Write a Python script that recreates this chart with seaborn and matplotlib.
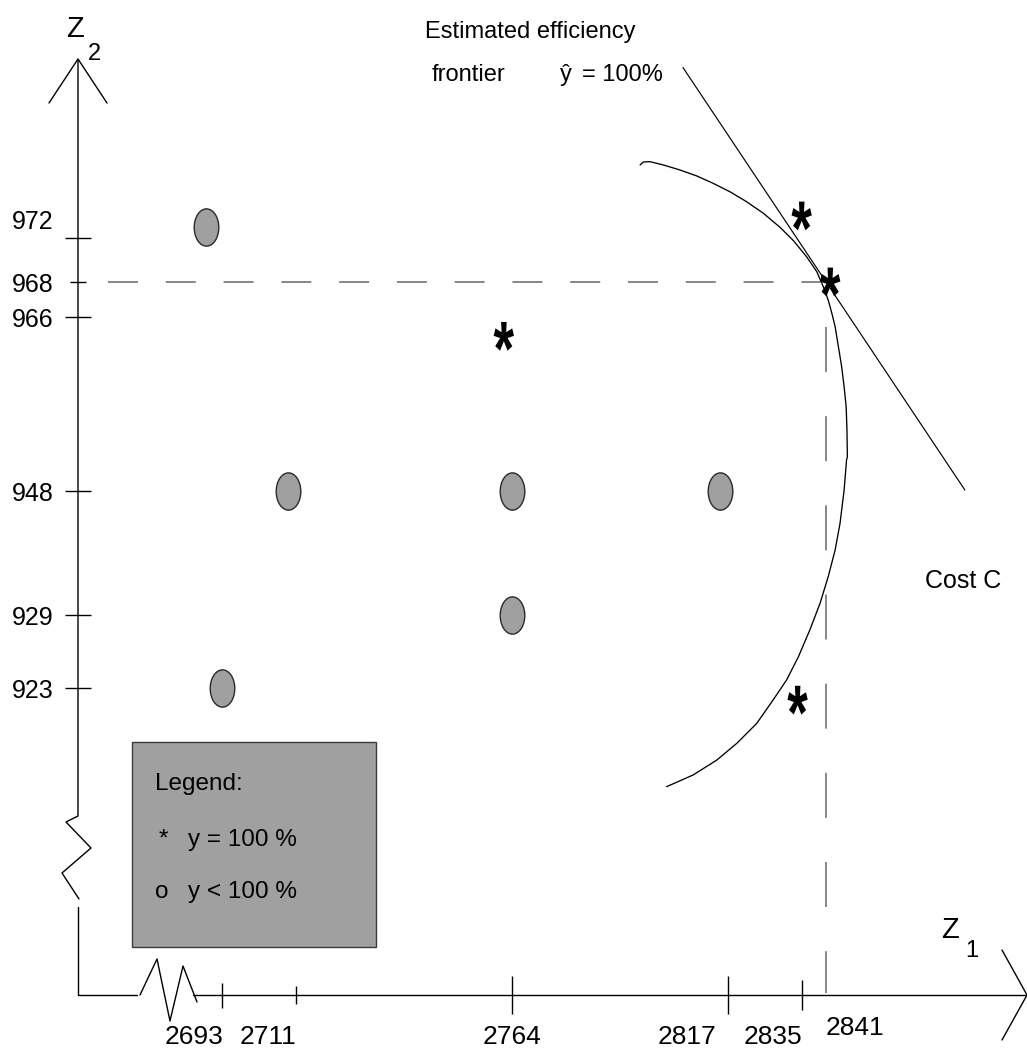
import numpy as np
import matplotlib
matplotlib.use("Agg")
import matplotlib.pyplot as plt
import seaborn as sns
from matplotlib.path import Path
from matplotlib.markers import MarkerStyle
from matplotlib.textpath import TextPath
from matplotlib.font_manager import FontProperties
from matplotlib.lines import Line2D
from matplotlib.patches import Rectangle
from matplotlib.transforms import ScaledTranslation, Affine2D

sns.set_theme(style="white")
FONTS = ['Liberation Sans Narrow', 'Liberation Sans', 'DejaVu Sans']
plt.rcParams['font.family'] = FONTS
plt.rcParams['lines.scale_dashes'] = False

# ---------------- data ----------------
z1_ticks = [2693, 2711, 2764, 2817, 2835, 2841]
z2_ticks = [923, 929, 948, 966, 968, 972]

# DMUs with efficiency y < 100 %
inefficient_z1 = [2689, 2709, 2764, 2815, 2764, 2693]
inefficient_z2 = [973, 948, 948, 948, 929, 923]

# DMUs with efficiency y = 100 %
efficient_z1 = [2762, 2835, 2842, 2834]
efficient_z2 = [964, 974, 968, 922]

# estimated efficiency frontier
frontier_z1 = [2795.4, 2796.2, 2797.8, 2801.1, 2805.2, 2809.3, 2813.3, 2817.4,
               2821.5, 2825.6, 2829.7, 2833.0, 2836.2, 2838.7, 2840.3, 2841.5,
               2842.4, 2843.2, 2844.0, 2844.8, 2845.4, 2845.9, 2846.1, 2846.2,
               2846.0, 2845.4, 2844.4, 2843.2, 2841.5, 2839.5, 2837.0, 2834.2,
               2831.3, 2828.0, 2824.0, 2819.1, 2814.2, 2808.4, 2801.9]
frontier_z2 = [978.64, 978.91, 978.94, 978.64, 978.18, 977.64, 976.97, 976.21,
               975.30, 974.25, 972.97, 971.75, 970.30, 968.94, 967.73, 966.97,
               966.21, 965.00, 962.93, 960.86, 958.79, 956.72, 954.31, 951.55,
               951.21, 948.10, 943.05, 938.96, 934.87, 930.79, 927.77, 925.57,
               923.66, 922.02, 920.11, 918.47, 917.10, 915.88, 914.92]

# iso-cost line C
cost_z1 = [2805.9, 2875.0]
cost_z2 = [987.5, 948.1]

# dashed guides to the tangency point (2841, 968)
guide_h_z1 = [2665, 2841]
guide_h_z2 = [968, 968]
guide_v_z1 = [2841, 2841]
guide_v_z2 = [965, 898]

# ---------------- layout ----------------
W, H = 1027, 1059
fig = plt.figure(figsize=(W / 100, H / 100), dpi=100)
fig.patch.set_facecolor('white')

def fx(x):
    return x / W

def fy(y):
    return 1 - y / H

ax = fig.add_axes([fx(78), 64 / H, (W - 78) / W, 995 / H])
ax.patch.set_alpha(0)

# non-uniform Z2 axis as drawn in the reference
z2_anchor = np.array([890, 923, 929, 948, 966, 968, 972, 1000], float)
px_anchor = np.array([1091, 688, 615, 491, 317, 282, 238, -70], float)
pos_anchor = H - px_anchor

def fwd(v):
    return np.interp(v, z2_anchor, pos_anchor)

def inv(p):
    return np.interp(p, pos_anchor, z2_anchor)

ax.set_yscale('function', functions=(fwd, inv))

# ---------------- marks ----------------
sns.lineplot(x=frontier_z1, y=frontier_z2, sort=False, estimator=None,
             color='black', linewidth=0.95, ax=ax,
             solid_joinstyle='round', solid_capstyle='round')
sns.lineplot(x=cost_z1, y=cost_z2, sort=False, estimator=None,
             color='black', linewidth=0.85, ax=ax)
ax.plot(guide_h_z1, guide_h_z2, color='#666666', linewidth=1.1,
        dashes=(21.6, 20.0))
ax.plot(guide_v_z1, guide_v_z2, color='#666666', linewidth=1.1,
        dashes=(32.4, 31.8))

ell_path = Affine2D().scale(0.66, 1.0).transform_path(Path.unit_circle())
ell_marker = MarkerStyle(ell_path)
sns.scatterplot(x=inefficient_z1, y=inefficient_z2, marker=ell_marker, s=720,
                color='#a0a0a0', edgecolor='#2a2a2a', linewidth=1.0, ax=ax,
                zorder=3)

tp = TextPath((0, 0), '*', size=1,
              prop=FontProperties(family='Liberation Sans', weight='bold'))
a_verts, a_codes = [], []
for poly in tp.to_polygons():
    a_verts.extend(poly.tolist())
    a_codes += [Path.MOVETO] + [Path.LINETO] * (len(poly) - 2) + [Path.CLOSEPOLY]
a_verts = np.array(a_verts)
a_verts -= (a_verts.min(axis=0) + a_verts.max(axis=0)) / 2
a_verts[:, 0] *= 0.68
ast_marker = MarkerStyle(Path(a_verts, a_codes))
sns.scatterplot(x=efficient_z1, y=efficient_z2, marker=ast_marker, s=430,
                color='black', edgecolor='none', linewidth=0, ax=ax, zorder=4)

ax.set_xlim(2764 + (78 - 512) / 4.08, 2764 + (W - 512) / 4.08)
ax.set_ylim(inv(64), inv(H))
ax.set_xlabel('')
ax.set_ylabel('')
for s in ax.spines.values():
    s.set_visible(False)
ax.grid(False)

# ---------------- ticks ----------------
ax.set_xticks(z1_ticks)
ax.set_xticklabels([str(t) for t in z1_ticks])
ax.set_yticks(z2_ticks)
ax.set_yticklabels([str(t) for t in z2_ticks])
ax.minorticks_off()
ax.tick_params(axis='both', which='major', direction='inout', length=18.7,
               width=1.0, colors='black',
               bottom=True, left=True, top=False, right=False)
ax.tick_params(axis='x', pad=12, labelsize=19)
ax.tick_params(axis='y', pad=8, labelsize=18)

x_len = [18, 13, 27, 27.4, 21.6, 0]
x_ha = ['right', 'right', 'center', 'right', 'right', 'left']
x_dx = [1, 1, 0, -12, 1, -1]
x_dy = [0, 0, 0, 0, 0, 9]
for tick, L in zip(ax.xaxis.get_major_ticks(), x_len):
    tick.tick1line.set_markersize(L)
    if L == 0:
        tick.tick1line.set_visible(False)
for lbl, ha, dx, dy in zip(ax.get_xticklabels(), x_ha, x_dx, x_dy):
    lbl.set_ha(ha)
    lbl.set_transform(lbl.get_transform() +
                      ScaledTranslation(dx / 100, dy / 100, fig.dpi_scale_trans))

y_len = [18.7, 18.7, 18.7, 18.7, 12.2, 18.7]
y_dy = [0, 0, 0, 0, 0, 19]
for tick, L in zip(ax.yaxis.get_major_ticks(), y_len):
    tick.tick1line.set_markersize(L)
for lbl, dy in zip(ax.get_yticklabels(), y_dy):
    lbl.set_transform(lbl.get_transform() +
                      ScaledTranslation(0, dy / 100, fig.dpi_scale_trans))

# ---------------- hand drawn axes with breaks and arrows ----------------
def fig_line(xs, ys, **kw):
    kw.setdefault('color', 'black')
    kw.setdefault('linewidth', 1.0)
    fig.add_artist(Line2D([fx(v) for v in xs], [fy(v) for v in ys],
                          transform=fig.transFigure, **kw))

fig_line([78, 78, 66, 91, 62, 79], [60, 816, 822, 848, 873, 899])
fig_line([78, 78, 137], [907, 995, 995])
fig_line([140, 157, 170, 183, 197], [995, 959, 1021, 966, 1002])
fig_line([193, 1027], [995, 995])
fig_line([49, 78, 107], [103, 59, 103])
fig_line([1002, 1027, 1002], [950, 995, 1040])

# ---------------- texts ----------------
def fig_text(x, y, s, size, **kw):
    kw.setdefault('ha', 'left')
    kw.setdefault('va', 'baseline')
    fig.text(fx(x), fy(y), s, fontsize=size, color='black', **kw)

fig_text(66, 37, 'Z', 21)
fig_text(88, 60, '2', 17)
fig_text(941, 938, 'Z', 21)
fig_text(965, 957, '1', 17)

fig_text(425, 38, 'Estimated efficiency', 17)
fig_text(432, 81, 'frontier', 17)
fig_text(566, 81, 'ŷ', 17, ha='center')
fig_text(582, 81, '= 100%', 17)
fig_text(925, 588, 'Cost C', 18)

# legend box
fig.add_artist(Rectangle((fx(132), fy(947)), (376 - 132) / W, (947 - 742) / H,
                         transform=fig.transFigure, facecolor='#a0a0a0',
                         edgecolor='#3a3a3a', linewidth=1.0))
fig_text(155, 790, 'Legend:', 17.5)
fig_text(163, 846, '*', 17.5, ha='center')
fig_text(188, 846, 'y = 100 %', 17.5)
fig_text(155, 898, 'o', 17.5)
fig_text(188, 898, 'y < 100 %', 17.5)

fig.savefig('out.png', dpi=100, facecolor='white')
